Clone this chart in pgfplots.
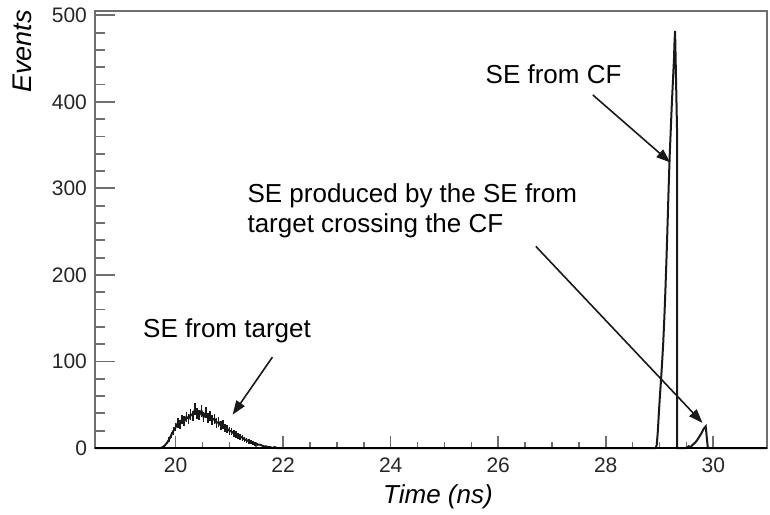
\documentclass[border=0pt]{standalone}
\usepackage{fontspec}
\setmainfont{Liberation Sans}
\usepackage{pgfplots}
\usepackage{pgfplotstable}
\pgfplotsset{compat=1.18}
\usetikzlibrary{arrows.meta}

\definecolor{histline}{RGB}{25,25,25}
\definecolor{frame}{RGB}{110,110,110}
\definecolor{baseline}{RGB}{95,45,45}

% Time-of-flight histogram of secondary electrons
\pgfplotstableread{
x y
18.50 0
19.72 0
19.76 1
19.80 3
19.84 6
19.88 10
19.92 15
19.96 20
20.00 24
20.04 29
20.08 27
20.12 33
20.16 31
20.20 36
20.24 34
20.28 39
20.32 37
20.36 45
20.40 40
20.44 38
20.48 43
20.52 36
20.56 41
20.60 35
20.64 37
20.68 32
20.72 34
20.76 29
20.80 30
20.84 26
20.88 27
20.92 23
20.96 22
21.00 20
21.04 19
21.08 17
21.12 16
21.16 14
21.20 13
21.24 12
21.28 10
21.32 9
21.36 8
21.40 7
21.44 6
21.48 5
21.52 4
21.56 4
21.60 3
21.64 2
21.68 2
21.72 1
21.76 1
21.80 0
21.84 1
21.88 0
28.93 0
28.95 4
28.97 20
28.99 42
29.01 62
29.03 80
29.05 100
29.07 122
29.09 150
29.11 182
29.13 218
29.15 258
29.17 300
29.19 338
29.21 368
29.23 398
29.25 424
29.27 450
29.28 470
29.29 482
29.33 356
29.33 0
29.50 0
29.54 2
29.58 1
29.62 4
29.66 6
29.70 9
29.74 13
29.78 17
29.82 22
29.86 25
29.88 12
29.90 0
31.00 0
}\timehist

% Bins of the target bump drawn with their statistical errors
\pgfplotstableread{
x y e
19.88 10 3.2
19.92 15 3.9
19.96 20 4.5
20.00 24 4.9
20.04 29 5.4
20.08 27 5.2
20.12 33 5.7
20.16 31 5.6
20.20 36 6.0
20.24 34 5.8
20.28 39 6.2
20.32 37 6.1
20.36 45 6.7
20.40 40 6.3
20.44 38 6.2
20.48 43 6.6
20.52 36 6.0
20.56 41 6.4
20.60 35 5.9
20.64 37 6.1
20.68 32 5.7
20.72 34 5.8
20.76 29 5.4
20.80 30 5.5
20.84 26 5.1
20.88 27 5.2
20.92 23 4.8
20.96 22 4.7
21.00 20 4.5
21.04 19 4.4
21.08 17 4.1
21.12 16 4.0
21.16 14 3.7
21.20 13 3.6
21.24 12 3.5
21.28 10 3.2
21.32 9 3.0
21.36 8 2.8
21.40 7 2.6
21.44 6 2.4
21.48 5 2.2
21.52 4 2.0
}\targetbins

\pgfplotsset{
  tofframe/.style={
    scale only axis,
    width=336pt, height=218.5pt,
    xmin=18.5, xmax=31,
    ymin=0, ymax=505,
    tick align=inside,
    axis line style={frame, line width=1pt},
    /pgf/number format/assume math mode=true,
    ticklabel style={font=\fontsize{10.5}{12}\selectfont, text=black!85},
  },
}

\begin{document}
\begin{tikzpicture}
\path[use as bounding box] (-47.5pt,-33pt) rectangle (337.5pt,224pt);
% time axis ticks (shorter than the event-axis ticks)
\begin{axis}[
  tofframe,
  xtick={20,22,...,30},
  minor x tick num=3,
  ytick=\empty,
  xtick pos=bottom,
  major tick length=6pt,
  minor tick length=3pt,
  x tick style={frame, line width=0.8pt},
  xticklabel style={yshift=-1.5pt},
]
\end{axis}
\begin{axis}[
  tofframe,
  xtick=\empty,
  ytick={0,100,...,500},
  minor y tick num=4,
  ytick pos=left,
  major tick length=10pt,
  minor tick length=5pt,
  y tick style={frame, line width=0.9pt},
  yticklabel style={xshift=-0.5pt},
  clip=false,
]
\addplot[histline, line width=1pt] table[x=x, y=y] {\timehist};
\addplot[draw=none, mark=none,
  error bars/.cd, y dir=both, y explicit,
  error bar style={histline, line width=0.8pt}, error mark=none]
  table[x=x, y=y, y error=e] {\targetbins};
\draw[baseline, line width=1pt] (axis cs:18.5,0) -- (axis cs:31,0);

% annotations
\node[anchor=base west, inner sep=0pt, font=\fontsize{13}{15}\selectfont]
  at (axis cs:19.39,128) {SE from target};
\draw[-{Triangle[length=7pt,width=5pt]}, line width=0.8pt, histline]
  (axis cs:21.80,105) -- (axis cs:21.06,38.5);

\node[anchor=base west, inner sep=0pt, font=\fontsize{13}{15}\selectfont]
  at (axis cs:25.76,421.5) {SE from CF};
\draw[-{Triangle[length=7pt,width=5pt]}, line width=0.8pt, histline]
  (axis cs:27.76,408) -- (axis cs:29.20,330);

\node[anchor=base west, inner sep=0pt, font=\fontsize{13}{15}\selectfont]
  at (axis cs:21.33,284) {SE produced by the SE from};
\node[anchor=base west, inner sep=0pt, font=\fontsize{13}{15}\selectfont]
  at (axis cs:21.33,249.5) {target crossing the CF};
\draw[-{Triangle[length=7pt,width=5pt]}, line width=0.8pt, histline]
  (axis cs:26.70,233) -- (axis cs:29.80,29);
\end{axis}

% axis titles
\node[anchor=east, rotate=90, inner sep=0pt, font=\fontsize{13.5}{15}\selectfont\itshape]
  at (-36.5pt,219pt) {Events};
\node[anchor=base, inner sep=0pt, font=\fontsize{13}{15}\selectfont\itshape]
  at (171.5pt,-27.5pt) {Time (ns)};
\end{tikzpicture}
\end{document}
